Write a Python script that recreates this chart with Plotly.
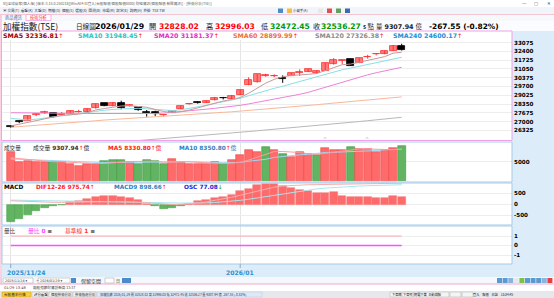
import plotly.graph_objects as go

W, H = 554, 298
def px(x): return x / W
def py(y): return 1 - y / H

# ---------------- data ----------------
dates = ["2025/11/24","2025/11/25","2025/11/26","2025/11/27","2025/11/28",
         "2025/12/01","2025/12/02","2025/12/03","2025/12/04","2025/12/05",
         "2025/12/08","2025/12/09","2025/12/10","2025/12/11","2025/12/12",
         "2025/12/15","2025/12/16","2025/12/17","2025/12/18","2025/12/19",
         "2025/12/22","2025/12/23","2025/12/24","2025/12/26",
         "2025/12/29","2025/12/30","2025/12/31","2026/01/02",
         "2026/01/05","2026/01/06","2026/01/07","2026/01/08","2026/01/09",
         "2026/01/12","2026/01/13","2026/01/14","2026/01/15","2026/01/16",
         "2026/01/19","2026/01/20","2026/01/21","2026/01/22","2026/01/23",
         "2026/01/26","2026/01/27","2026/01/28","2026/01/29"]

opens  = [26640,27010,27070,27540,27660,27680,27540,27580,27740,27720,
          28020,28400,28200,28400,28180,28140,27760,27710,27470,27690,
          27970,28330,28470,28460,28660,28800,28740,29045,29820,30030,
          30510,30490,30360,30530,30740,30840,30717,30917,31410,31650,
          31796,31534,31980,32170,32204,32459,32828.02]
highs  = [26700,27080,27450,27660,27830,27710,27740,27870,27900,28000,
          28380,28430,28500,28610,28330,28180,27890,27840,27560,27850,
          28220,28420,28560,28630,28900,28900,29050,29450,30410,30650,
          30680,30640,30560,30740,31020,31060,30930,31500,31880,31800,
          31830,31880,32140,32260,32470,32900,32996.03]
lows   = [26520,26880,27040,27420,27580,27290,27470,27550,27690,27700,
          28000,28180,28180,27940,28150,27830,27370,27430,27400,27640,
          27950,28300,28380,28440,28620,28700,28720,29030,29800,30000,
          30450,30420,29980,30510,30510,30820,30700,30900,31390,31420,
          31280,31500,31850,32100,32190,32440,32472.45]
closes = [26600,26980,27430,27570,27700,27330,27570,27830,27770,27960,
          28350,28200,28450,28020,28280,27870,27640,27590,27490,27780,
          28200,28370,28440,28600,28840,28780,28990,29430,30200,30640,
          30550,30530,30310,30717,30780,31025,30917,31488,31742,31720,
          31303,31873,32010,32190,32459,32803.82,32536.27]

sma5   = [26660,26800,26950,27100,27250,27350,27480,27520,27570,27680,
          27890,28000,28110,28200,28220,28160,28100,27930,27770,27700,
          27750,27880,28050,28250,28450,28580,28700,28850,29180,29600,
          29960,30250,30450,30550,30580,30640,30700,30930,31190,31380,
          31430,31560,31720,31820,32000,32270,32336.81]
sma10  = [27250,27180,27120,27180,27260,27330,27420,27500,27600,27700,
          27780,27870,27940,27980,28000,28020,27980,27920,27860,27850,
          27900,28000,28120,28250,28400,28520,28650,28790,28990,29200,
          29400,29560,29720,29900,30100,30300,30480,30650,30820,30990,
          31120,31260,31420,31580,31700,31830,31948.45]
sma20  = [27680,27680,27670,27660,27650,27650,27640,27640,27630,27620,
          27620,27620,27610,27600,27590,27590,27600,27620,27650,27700,
          27760,27820,27880,27950,28020,28080,28150,28250,28360,28480,
          28600,28720,28820,28950,29100,29250,29450,29650,29850,30050,
          30250,30430,30600,30760,30900,31040,31181.37]
sma60  = [26560,26605,26660,26715,26760,26805,26860,26915,26960,27005,
          27060,27115,27160,27205,27260,27310,27345,27390,27435,27470,
          27510,27555,27590,27630,27675,27710,27750,27800,27850,27905,
          27950,28000,28060,28115,28180,28240,28295,28360,28420,28485,
          28540,28600,28665,28720,28780,28840,28899.99]
sma120 = [24780,24835,24880,24930,24985,25030,25080,25135,25180,25230,
          25285,25330,25380,25435,25480,25530,25585,25630,25685,25740,
          25790,25850,25905,25960,26010,26070,26125,26180,26230,26290,
          26345,26400,26460,26515,26580,26640,26695,26760,26820,26875,
          26940,27000,27065,27130,27190,27260,27326.38]

volume = [7548,4918,5260,5076,5076,4918,4918,4550,4024,4550,
          4392,5260,5444,5444,5076,4392,5444,5260,4550,5786,
          5076,4392,4392,4550,4918,4550,5602,6838,8074,7706,
          8942,8232,7022,6312,7548,7022,6838,8600,8232,8074,
          8942,8416,8416,7548,8232,8600,9307.94]
vol_up = [1,1,1,1,1,0,1,1,1,1,1,0,0,0,1,0,0,0,0,1,
          1,1,1,1,1,0,1,1,1,1,0,1,0,1,1,1,0,1,1,1,
          0,1,1,1,1,1,0]
vol_ma5  = [6100,5900,5700,5500,5300,5050,5050,5000,4800,4700,
            4550,4600,4800,5000,5100,5150,5200,5200,4950,5000,
            5050,5050,4900,4800,4700,4550,4700,4900,5500,6200,
            6900,7750,7750,7600,7500,7150,7000,7250,7500,7750,
            8150,8450,8450,8300,8300,8250,8330.80]
vol_ma10 = [5800,5700,5600,5500,5400,5300,5250,5150,5050,4900,
            4800,4850,4900,4900,4900,4850,4900,5000,4980,5050,
            5100,5100,5050,4950,4850,4800,4850,4900,5200,5400,
            5700,6200,6500,6700,6900,7000,7300,7500,7550,7650,
            7650,7700,7850,8000,8200,8350,8350.80]

osc_bar = [-810,-660,-463,-280,-160,-82,-36,114,173,264,
           341,400,400,355,296,205,30,-82,-191,-160,
           -82,36,145,218,296,328,446,600,719,900,
           946,946,855,764,660,614,510,510,555,400,
           355,328,328,310,310,373,328]
dif = [170,150,130,120,110,100,95,95,100,110,
       120,130,135,130,120,100,70,40,15,5,
       10,30,70,120,180,250,330,420,520,620,
       710,790,840,870,890,900,905,915,930,935,
       935,940,945,950,955,970,975.74]
macd9 = [200,195,185,175,165,155,145,138,132,128,
         126,126,127,128,128,125,117,105,90,75,
         65,60,62,72,90,115,148,190,240,300,
         360,430,500,560,620,670,710,745,775,800,
         820,840,855,868,880,890,898.66]
vol_ratio = [0] * 47
base_line = [1] * 47

price_ticks = [26325,27000,27675,28350,29025,29700,30375,31050,31725,32400,33075]
vol_ticks = [5000]
macd_ticks = [-500,0,500]
ratio_ticks = [-1,0,1]
date_labels = [(0, "2025/11/24"), (27, "2026/01")]

# ---------------- styling ----------------
NUM = "DejaVu Sans, Noto Sans CJK TC"
CJK = "Noto Sans CJK TC, DejaVu Sans"
BLUE_BG = "#dcecf8"
PANEL_LINE = "#a6cbe8"
PINK = "#f0a0e6"
UP_FILL, UP_LINE, DN_FILL, DN_LINE = "#ff7b7b", "#ff3030", "#000000", "#000000"

xs = list(range(len(dates)))
X0, X1 = 2, 512            # plot area in px
I0_PX, STEP = 10.7, 8.5    # px of first candle, px per candle
xr = [(X0 - I0_PX) / STEP, (X1 - I0_PX) / STEP]

def yrange(top, bot, zero_px, per_px):
    return [(zero_px - bot) * per_px, (zero_px - top) * per_px]

fig = go.Figure()

# main price panel: wicks + bodies
is_up = [c >= o for o, c in zip(opens, closes)]
for flag, col in [(True, UP_LINE), (False, DN_LINE)]:
    wx, wy = [], []
    for i in xs:
        if is_up[i] == flag:
            wx += [i, i, None]
            wy += [lows[i], highs[i], None]
    fig.add_trace(go.Scatter(x=wx, y=wy, mode="lines", line=dict(color=col, width=1),
                             xaxis="x", yaxis="y", showlegend=False, hoverinfo="skip"))
body_base = [min(o, c) for o, c in zip(opens, closes)]
body_len = [max(abs(c - o), 12) for o, c in zip(opens, closes)]
fig.add_trace(go.Bar(x=xs, y=body_len, base=body_base, width=0.8,
                     marker=dict(color=[UP_FILL if u else DN_FILL for u in is_up],
                                 line=dict(color=[UP_LINE if u else DN_LINE for u in is_up], width=0.8)),
                     xaxis="x", yaxis="y", showlegend=False, hoverinfo="skip"))
for vals, col in [(sma120, "#b8b8b8"), (sma60, "#f8b898"), (sma20, "#f080d8"),
                  (sma10, "#88e0e8"), (sma5, "#c89a9a")]:
    fig.add_trace(go.Scatter(x=xs, y=vals, mode="lines", line=dict(color=col, width=1),
                             xaxis="x", yaxis="y", showlegend=False, hoverinfo="skip"))

# volume panel
vol_fill = ["#ff6a6a" if u else "#62b462" for u in vol_up]
vol_edge = ["#f04848" if u else "#3d9a3d" for u in vol_up]
fig.add_trace(go.Bar(x=xs, y=volume, marker=dict(color=vol_fill, line=dict(color=vol_edge, width=0.6)),
                     width=0.92, xaxis="x2", yaxis="y2", showlegend=False, hoverinfo="skip"))
fig.add_trace(go.Scatter(x=xs, y=vol_ma10, mode="lines", line=dict(color="#9fd6f2", width=1),
                         xaxis="x2", yaxis="y2", showlegend=False, hoverinfo="skip"))
fig.add_trace(go.Scatter(x=xs, y=vol_ma5, mode="lines", line=dict(color="#ff9c9c", width=1),
                         xaxis="x2", yaxis="y2", showlegend=False, hoverinfo="skip"))

# MACD panel
m_fill = ["#ff6a6a" if v >= 0 else "#62b462" for v in osc_bar]
m_edge = ["#f48a8a" if v >= 0 else "#4aa44a" for v in osc_bar]
fig.add_trace(go.Bar(x=xs, y=osc_bar, marker=dict(color=m_fill, line=dict(color=m_edge, width=0.6)),
                     width=0.92, xaxis="x3", yaxis="y3", showlegend=False, hoverinfo="skip"))
fig.add_trace(go.Scatter(x=xs, y=macd9, mode="lines", line=dict(color="#a8e6f0", width=1),
                         xaxis="x3", yaxis="y3", showlegend=False, hoverinfo="skip"))
fig.add_trace(go.Scatter(x=xs, y=dif, mode="lines", line=dict(color="#f4b0b0", width=1),
                         xaxis="x3", yaxis="y3", showlegend=False, hoverinfo="skip"))

# ratio panel
fig.add_trace(go.Scatter(x=xs, y=base_line, mode="lines", line=dict(color="#ffa8a8", width=1),
                         xaxis="x4", yaxis="y4", showlegend=False, hoverinfo="skip"))
fig.add_trace(go.Scatter(x=xs, y=vol_ratio, mode="lines", line=dict(color="#ff50ff", width=1.6),
                         xaxis="x4", yaxis="y4", showlegend=False, hoverinfo="skip"))

# ---------------- axes ----------------
tickfont = dict(family="DejaVu Sans", size=5.6, color="#000000")
def xax(anchor):
    return dict(domain=[px(X0), px(X1)], range=xr, anchor=anchor, showticklabels=False,
                tickvals=[d[0] for d in date_labels], showgrid=True, gridcolor="#e4e4e4",
                gridwidth=1, zeroline=False, ticks="", showline=False, fixedrange=True)
def yax(top, bot, rng, ticks, anchor):
    return dict(domain=[py(bot), py(top)], range=rng, side="right", anchor=anchor,
                tickvals=ticks, ticktext=[f"<b>{t}</b>" for t in ticks], tickfont=tickfont,
                showgrid=True, gridcolor="#ededed", zeroline=False, ticks="",
                ticklabelstandoff=1, showline=False, fixedrange=True)

main_top, main_bot = 40, 140
p_per = 675 / 8.76
main_rng = [33075 - (main_bot - 42.7) * p_per, 33075 + (42.7 - main_top) * p_per]

layout = dict(
    width=W, height=H, margin=dict(l=0, r=0, t=0, b=0),
    paper_bgcolor="#ffffff", plot_bgcolor="rgba(0,0,0,0)",
    showlegend=False, bargap=0, barmode="overlay",
    xaxis=xax("y"),
    yaxis=yax(main_top, main_bot, main_rng, price_ticks, "x"),
    xaxis2=xax("y2"),
    yaxis2=yax(143, 182, yrange(143, 182, 181, 263), vol_ticks, "x2"),
    xaxis3=xax("y3"),
    yaxis3=yax(183, 225, yrange(183, 225, 204.5, 45.5), macd_ticks, "x3"),
    xaxis4=xax("y4"),
    yaxis4=yax(226, 264, yrange(226, 264, 245.5, 1 / 9.5), ratio_ticks, "x4"),
)

# ---------------- chrome ----------------
shapes = []
def rect(x0, y0, x1, y1, fill=None, line=None, lw=1, layer="below"):
    shapes.append(dict(type="rect", xref="paper", yref="paper", x0=px(x0), x1=px(x1),
                       y0=py(y1), y1=py(y0), fillcolor=fill or "rgba(0,0,0,0)",
                       line=dict(color=line or "rgba(0,0,0,0)", width=lw if line else 0), layer=layer))
def hline(x0, x1, y, color, lw=1, layer="above"):
    shapes.append(dict(type="line", xref="paper", yref="paper", x0=px(x0), x1=px(x1),
                       y0=py(y), y1=py(y), line=dict(color=color, width=lw), layer=layer))
def vline(x, y0, y1, color, lw=1, layer="above"):
    shapes.append(dict(type="line", xref="paper", yref="paper", x0=px(x), x1=px(x),
                       y0=py(y0), y1=py(y1), line=dict(color=color, width=lw), layer=layer))

# window bars
rect(0, 0, 554, 7, fill="#ffffff")
rect(0, 7, 554, 14, fill="#f1f4f8")
rect(0, 14, 554, 21, fill="#f6f8fb")
rect(0, 21, 554, 31, fill="#fafcff")
rect(512, 31, 554, 277, fill=BLUE_BG)
rect(2, 264, 512, 277, fill=BLUE_BG)
rect(0, 277, 554, 284, fill="#f4f7fb")
rect(0, 284, 554, 291, fill="#ffffff")
rect(0, 291, 554, 298, fill="#e6e8ec")
rect(97, 292, 262, 297, fill="#dfe9f6", line="#b8c8dc", lw=0.5)
rect(2, 292, 31, 297, fill="#f6cf3e", line="#c8a020", lw=0.5)
for a, b in [(32, 48), (49, 72), (73, 96)]:
    rect(a, 292, b, 297, fill="#f4f4f4", line="#b0b0b0", lw=0.5)
for a in range(390, 470, 12):
    rect(a, 292, a + 11, 297, fill="#f4f4f4", line="#b0b0b0", lw=0.5)
# tab
rect(26, 14.5, 51, 20.5, fill="#ffffff", line=PINK, lw=0.8)
hline(0, 554, 14.5, "#f4b8c8", 0.8)
# panels
rect(1.5, 31, 512, 140.5, line=PINK, lw=1, layer="above")
rect(2, 142, 512, 182, line=PANEL_LINE, lw=1, layer="above")
rect(2, 183, 512, 225, line=PANEL_LINE, lw=1, layer="above")
rect(2, 226, 512, 264, line=PANEL_LINE, lw=1, layer="above")
vline(1, 15, 284, "#f4a8c8", 1)
hline(0, 554, 284, "#f4a8c8", 1)
for xi, _ in date_labels:
    xp = I0_PX + STEP * xi
    vline(xp, 264, 268, "#90a8c0", 1)
# bottom controls
rect(3, 278, 33, 283, fill="#ffffff", line="#a0a0a0", lw=0.5)
rect(38, 278, 70, 283, fill="#ffffff", line="#a0a0a0", lw=0.5)
rect(71, 278, 76, 283, fill="#4a8cc8")
rect(105, 278, 114, 283, fill="#ffffff", line="#a0a0a0", lw=0.5)
rect(122, 278, 131, 283, fill="#4a8cc8")
for i, c in enumerate(["#5a9ad0", "#5a9ad0", "#8ab4dc", "#e8e8e8", "#7ac050", "#5a9ad0",
                       "#5a9ad0", "#5a9ad0", "#8ab4dc", "#e84040"]):
    rect(497 + i * 5.6, 278, 502 + i * 5.6, 283, fill=c)
# toolbar icons right
for i, c in enumerate(["#4a8cc8", "#f0c040", "#e8e8e8", "#e05050", "#60a060", "#3a6ab0"]):
    x0 = 278 + i * 9 if i < 2 else 300 + i * 9
    rect(x0, 8.5, x0 + 5, 13, fill=c)

ann = []
def txt(x, y, s, size=6, color="#000000", family=NUM, anchor="left"):
    ann.append(dict(x=px(x), y=py(y), xref="paper", yref="paper", text=s, showarrow=False,
                    xanchor=anchor, yanchor="middle", borderpad=0,
                    font=dict(size=size, color=color, family=family)))

up = '<span style="color:#ff1010">↑</span>'
# title / toolbar / tabs
txt(2, 3.5, "XQ全球贏家(個人版) [版本:3.15.0.250218][WinAll4 已登入(台股報價 個股報價0000) 財經資訊(個股報價 新聞資訊)] - [技術分析(TSE)]", 3.6, "#606060", CJK)
txt(521, 3.5, "—", 4.5, "#505050")
txt(533, 3.5, "▢", 4.5, "#505050")
txt(546, 3.5, "✕", 4.5, "#505050")
txt(2, 10.5, "▣ 交易(T)  看盤(K)  大盤(D)  期權(O)  個股(S)  選股(X)  回測(B)  市場(M)  設定(E)  說明(H)  外掛  TSE TW", 3.6, "#203050", CJK)
txt(292, 10.7, "小幫手(A)", 3.4, "#203050", CJK)
txt(4, 17.4, "商品資訊", 4.2, "#4a6aa0", CJK)
txt(29, 17.4, "技術分析", 4.2, "#ff2020", CJK)

# header
hy = 26.4
txt(2, hy, "加權指數(TSE)", 8.6, "#202020", CJK)
txt(75, hy, "日線圖", 6.6, "#202020", CJK)
txt(94, hy, "<b>2026/01/29</b>", 7.8, "#000000")
txt(148, hy, "開", 7.2, "#202020", CJK)
txt(158, hy, "<b>32828.02</b>", 7.6, "#ff0000")
txt(205, hy, "高", 7.2, "#202020", CJK)
txt(214, hy, "<b>32996.03</b>", 7.6, "#ff0000")
txt(260, hy, "低", 7.2, "#202020", CJK)
txt(269, hy, "<b>32472.45</b>", 7.6, "#009a00")
txt(312, hy, "收", 7.2, "#202020", CJK)
txt(320, hy, "<b>32536.27</b>", 7.6, "#009a00")
txt(362, hy, "<b>s</b> 點", 6.4, "#202020", CJK)
txt(375, hy, "量 <b>9307.94</b> 億", 6.4, "#202020", NUM)
txt(428, hy, "<b>-267.55 (-0.82%)</b>", 7.4, "#000000")

# SMA row
sy = 35.6
txt(2, sy, f"<b>SMA5 32336.81</b>{up}", 6.3, "#a00000")
txt(77, sy, f"<b>SMA10 31948.45</b>{up}", 6.3, "#2cc4c4")
txt(153, sy, f"<b>SMA20 31181.37</b>{up}", 6.3, "#e030c0")
txt(232, sy, f"<b>SMA60 28899.99</b>{up}", 6.3, "#f07038")
txt(314, sy, f"<b>SMA120 27326.38</b>{up}", 6.3, "#8c8c8c")
txt(392, sy, f"<b>SMA240 24600.17</b>{up}", 6.3, "#2090d8")
for cx in [325, 367]:
    txt(cx, 138.5, "^", 5, "#f080d8", NUM, "center")

# volume header
vy = 147.6
txt(3, vy, "成交量", 5.6, "#303030", CJK)
txt(32, vy, f"成交量 <b>9307.94</b>{up}億", 5.8, "#303030", NUM)
txt(107, vy, f"<b>MA5 8330.80</b>{up}億", 5.8, "#ff2020", NUM)
txt(178, vy, f"<b>MA10 8350.80</b>{up}億", 5.8, "#3080c0", NUM)

# MACD header
my = 187.2
txt(3, my, "<b>MACD</b>", 5.8, "#000000")
txt(35, my, f"<b>DIF12-26 975.74</b>{up}", 5.8, "#ff2020")
txt(113, my, f"<b>MACD9 898.66</b>{up}", 5.8, "#3080c0")
txt(183, my, '<b>OSC 77.08</b><span style="color:#10a010">↓</span>', 5.8, "#2020e0")

# ratio header
ry = 231
txt(3, ry, "量比", 5.6, "#404040", CJK)
txt(27, ry, '量比 <b>0</b> <span style="color:#000">≡</span>', 5.8, "#ff40ff", NUM)
txt(64, ry, '基準線 <b>1</b> <span style="color:#000">≡</span>', 5.8, "#ff3030", NUM)

# date labels
txt(6, 272.5, f"<b>{date_labels[0][1]}</b>", 6.1, "#3090d0")
txt(225, 272.5, f"<b>{date_labels[1][1]}</b>", 6.1, "#3090d0")

# bottom controls
txt(4, 280.6, "2025/11/24 ▾", 3.4, "#303030")
txt(34.5, 280.6, "~", 4, "#303030")
txt(39, 280.6, "2026/01/29 ▾", 3.4, "#303030")
txt(80, 280.6, "保留空間", 5, "#303030", CJK)
txt(115, 280.6, "日", 4, "#303030", CJK)
txt(3, 287.6, "01/29 13:48", 3.6, "#404040")
txt(32, 287.6, "類股指數財資創新高 13:37", 3.6, "#404040", CJK)
txt(3, 294.6, "台股基本行情", 3.6, "#202020", CJK)
txt(33, 294.6, "評分看盤", 3.4, "#202020", CJK)
txt(50, 294.6, "個股技術分析", 3.4, "#202020", CJK)
txt(74, 294.6, "技術指標分析", 3.4, "#202020", CJK)
txt(99, 294.6, "加權指數 2026/01/29 開 32828.02 高 32996.03 低 32472.45 收 32536.27 量 9307.94 億 -267.55 (-0.82%)", 3.2, "#203060", CJK)
txt(391, 294.6, "下單匣  下單夾  閃電下單  主動回報", 3.2, "#202020", CJK)
txt(472, 294.6, "登入    報價    日誌    13:34:45", 3.2, "#202020", CJK)

layout["shapes"] = shapes
layout["annotations"] = ann
fig.update_layout(**layout)
fig.write_html("out.html")
